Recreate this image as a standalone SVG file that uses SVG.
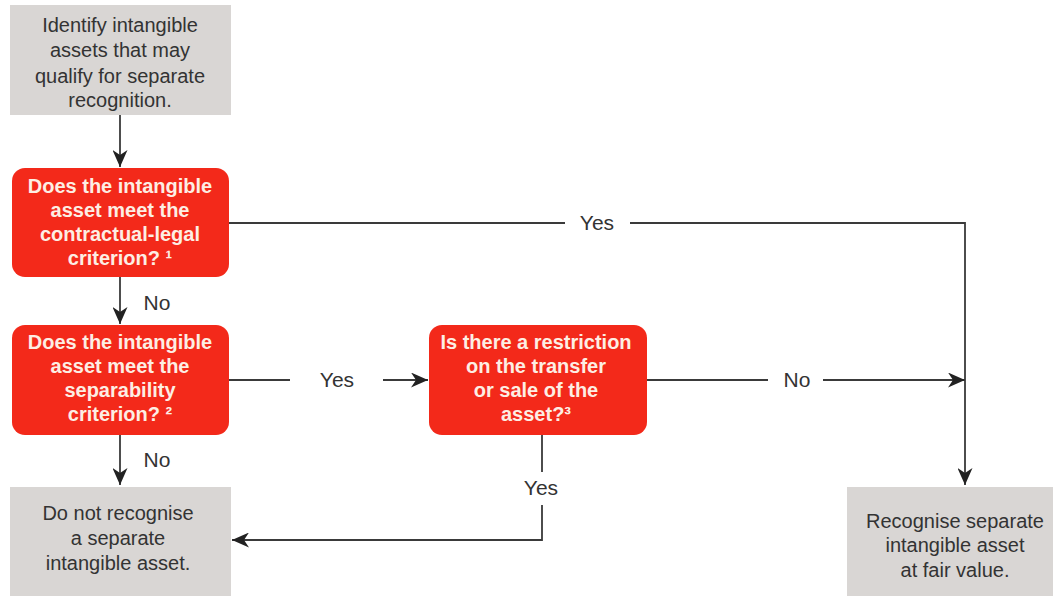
<svg xmlns="http://www.w3.org/2000/svg" width="1053" height="596" viewBox="0 0 1053 596">
<style>
.gray{fill:#d9d6d4}
.red{fill:#f3291a}
.t{font-family:"Liberation Sans",Arial,sans-serif;font-size:20px;fill:#333;text-anchor:middle}
.b{font-family:"Liberation Sans",Arial,sans-serif;font-size:20px;font-weight:bold;fill:#fdeee4;text-anchor:middle}
.lbl{font-family:"Liberation Sans",Arial,sans-serif;font-size:21px;fill:#333;text-anchor:middle}
.ln{fill:none;stroke:#3a3a3a;stroke-width:1.8}
</style>
<defs>
<marker id="ah" markerUnits="userSpaceOnUse" markerWidth="18" markerHeight="15" refX="17" refY="7.5" orient="auto">
<path d="M0,0 L17,7.5 L0,15 L5,7.5 z" fill="#222"/>
</marker>
</defs>
<rect width="1053" height="596" fill="#fff"/>
<g id="connectors">
<path class="ln" d="M120,115 V167" marker-end="url(#ah)"/>
<path class="ln" d="M120,277 V324" marker-end="url(#ah)"/>
<path class="ln" d="M120,435 V485" marker-end="url(#ah)"/>
<path class="ln" d="M229,223 H565 M630,223 H965 V485" marker-end="url(#ah)"/>
<path class="ln" d="M229,380 H290 M383,380 H428" marker-end="url(#ah)"/>
<path class="ln" d="M647,380 H768 M823,380 H965" marker-end="url(#ah)"/>
<path class="ln" d="M542,435 V472 M542,505 V540 H232" marker-end="url(#ah)"/>
<text class="lbl" x="597" y="230">Yes</text>
<text class="lbl" x="157" y="310">No</text>
<text class="lbl" x="337" y="387">Yes</text>
<text class="lbl" x="797" y="387">No</text>
<text class="lbl" x="157" y="467">No</text>
<text class="lbl" x="541" y="495">Yes</text>
</g>
<g id="identify">
<rect class="gray" x="10" y="5" width="221" height="110"/>
<text class="t" x="120" y="32">Identify intangible</text>
<text class="t" x="120" y="57">assets that may</text>
<text class="t" x="120" y="83">qualify for separate</text>
<text class="t" x="120" y="107">recognition.</text>
</g>
<g id="contractual">
<rect class="red" x="12" y="168" width="217" height="109" rx="13"/>
<text class="b" x="120" y="193">Does the intangible</text>
<text class="b" x="120" y="217">asset meet the</text>
<text class="b" x="120" y="241">contractual-legal</text>
<text class="b" x="120" y="265">criterion? ¹</text>
</g>
<g id="separability">
<rect class="red" x="12" y="325" width="217" height="110" rx="13"/>
<text class="b" x="120" y="349">Does the intangible</text>
<text class="b" x="120" y="373">asset meet the</text>
<text class="b" x="120" y="397">separability</text>
<text class="b" x="120" y="421">criterion? ²</text>
</g>
<g id="restriction">
<rect class="red" x="429" y="325" width="218" height="110" rx="13"/>
<text class="b" x="536" y="349">Is there a restriction</text>
<text class="b" x="536" y="373">on the transfer</text>
<text class="b" x="536" y="397">or sale of the</text>
<text class="b" x="536" y="421">asset?³</text>
</g>
<g id="donot">
<rect class="gray" x="10" y="487" width="221" height="109"/>
<text class="t" x="118" y="520">Do not recognise</text>
<text class="t" x="118" y="545">a separate</text>
<text class="t" x="118" y="570">intangible asset.</text>
</g>
<g id="recognise">
<rect class="gray" x="847" y="487" width="206" height="109"/>
<text class="t" x="955" y="528">Recognise separate</text>
<text class="t" x="955" y="552">intangible asset</text>
<text class="t" x="955" y="577">at fair value.</text>
</g>
</svg>
